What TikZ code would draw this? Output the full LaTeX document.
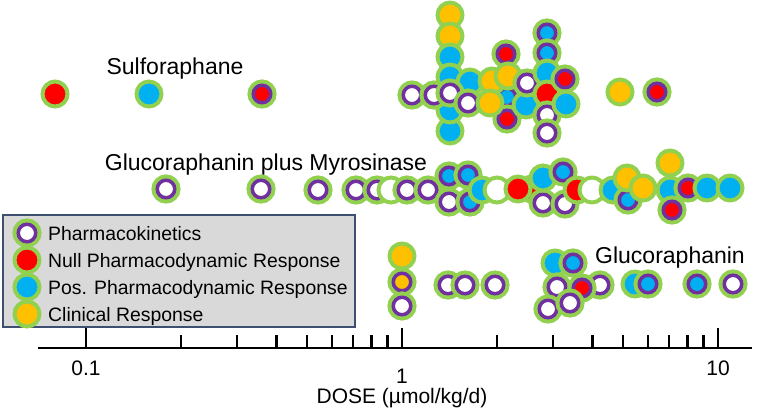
\documentclass[tikz,border=0pt]{standalone}
\usepackage{fontspec}
\setmainfont{Liberation Sans}
\definecolor{grn}{HTML}{92D050}
\definecolor{prp}{HTML}{7030A0}
\definecolor{blu}{HTML}{00B0F0}
\definecolor{org}{HTML}{FFC000}
\definecolor{rd}{HTML}{FF0000}
\definecolor{lgfill}{HTML}{D9D9D9}
\definecolor{lgdraw}{HTML}{3F4F6F}
\tikzset{
  dot/.style={circle, inner sep=0pt, minimum size=25pt, draw=grn, line width=4pt},
  pdot/.style={circle, inner sep=0pt, minimum size=17.5pt, draw=prp, line width=3.5pt,
    preaction={draw=grn, line width=11.5pt}},
  PK/.style={pdot, fill=white},
  NR/.style={dot, fill=rd},
  PR/.style={dot, fill=blu},
  CR/.style={dot, fill=org},
  GW/.style={dot, fill=white},
  NRp/.style={pdot, fill=rd},
  PRp/.style={pdot, fill=blu},
  CRp/.style={pdot, fill=org},
  axisline/.style={line width=2.5pt, black},
  rowlabel/.style={inner sep=0pt, anchor=base, font=\fontsize{23}{23}\selectfont},
  legtext/.style={inner sep=0pt, anchor=base west, font=\fontsize{19.4}{19.4}\selectfont},
  ticklabel/.style={inner sep=0pt, anchor=base, font=\fontsize{21}{21}\selectfont},
}
\begin{document}
\begin{tikzpicture}[x=1pt,y=-1pt]
\useasboundingbox (0,0) rectangle (765,408);
% axis
\coordinate (axL) at (38,348);
\coordinate (axR) at (752,348);
\draw[axisline] (axL) -- (axR);
\foreach \t in {86,402,718} \draw[axisline] (\t,328) -- (\t,348);
\foreach \t in {181.1,236.8,276.3,306.9,331.9,353.1,371.4,387.5,497.1,552.8,592.3,622.9,647.9,669.1,687.4,703.5}
  \draw[axisline] (\t,335) -- (\t,348);
\node[ticklabel] (t01) at (86,375.5) {0.1};
\node[ticklabel] (t1) at (402,383) {1};
\node[ticklabel] (t10) at (718,375.5) {10};
\node[ticklabel] (xlab) at (402,403.5) {DOSE (µmol/kg/d)};
% labels
\node[rowlabel] (lsf) at (175,74) {Sulforaphane};
\node[rowlabel] (lgm) at (266,170) {Glucoraphanin plus Myrosinase};
\node[rowlabel] (lgr) at (670,263) {Glucoraphanin};
% Sulforaphane row
\node[NR] (s1) at (55,94) {};
\node[PR] (s2) at (149,94) {};
\node[NRp] (s3) at (262,94) {};
\node[CR] (a1) at (450,15) {};
\node[CR] (a2) at (450,36) {};
\node[PR] (a3) at (450,57) {};
\node[PR] (a4) at (450,77) {};
\node[PR] (a6) at (450,131) {};
\node[PR] (a5) at (450,110) {};
\node[PR] (b0) at (470,82) {};
\node[PK] (p1) at (412,95) {};
\node[PK] (p2) at (434,95) {};
\node[PK] (p3) at (450,93) {};
\node[PK] (p4) at (468,103) {};
\node[NRp] (c0) at (506,54) {};
\node[PRp] (c1) at (507,97) {};
\node[NRp] (c2) at (507,119) {};
\node[CR] (o1) at (492,81) {};
\node[CR] (o2) at (508,76) {};
\node[CR] (o3) at (490,103) {};
\node[PR] (c3) at (526,105) {};
\node[PK] (c4) at (527,83) {};
\node[PRp] (d1) at (547,33) {};
\node[PRp] (d2) at (547,53) {};
\node[PR] (d3) at (547,73) {};
\node[NR] (d4) at (547,94) {};
\node[PK] (d5) at (547,115) {};
\node[PK] (d6) at (547,133) {};
\node[NRp] (e1) at (565,79) {};
\node[PR] (e2) at (566,104) {};
\node[CR] (f1) at (620,92) {};
\node[NRp] (f2) at (657,92) {};
% Glucoraphanin plus Myrosinase row
\node[PK] (g1) at (166,189) {};
\node[PK] (g2) at (261,189) {};
\node[PK] (g3) at (318,190) {};
\node[PK] (g4) at (356,190) {};
\node[PK] (g5) at (377,190) {};
\node[GW] (g6) at (391,190) {};
\node[PK] (g7) at (407,190) {};
\node[PK] (g8) at (428,190) {};
\node[PRp] (h1) at (449,176) {};
\node[PRp] (h2) at (468,175) {};
\node[PK] (h3) at (449,202) {};
\node[PRp] (h4) at (470,202) {};
\node[PR] (h5) at (482,190) {};
\node[GW] (h6) at (497,190) {};
\node[NRp] (h8) at (532,189) {};
\node[NR] (h7) at (518,189) {};
\node[PK] (i3) at (543,203) {};
\node[PK] (i4) at (565,204) {};
\node[PR] (i1) at (543,178) {};
\node[PRp] (i2) at (563,172) {};
\node[NR] (i5) at (577,190) {};
\node[GW] (i6) at (592,190) {};
\node[PR] (j1) at (613,190) {};
\node[PRp] (j3) at (628,200) {};
\node[CR] (j2) at (627,178) {};
\node[CR] (j4) at (643,188) {};
\node[CR] (k1) at (670,163) {};
\node[PR] (k2) at (670,190) {};
\node[NRp] (k3) at (672,210) {};
\node[NRp] (k4) at (688,188) {};
\node[PR] (k5) at (707,188) {};
\node[PR] (k6) at (730,188) {};
% Glucoraphanin row
\node[CR] (r1) at (402,256) {};
\node[CRp] (r2) at (402,282) {};
\node[PK] (r3) at (402,306) {};
\node[PK] (r4) at (448,285) {};
\node[PK] (r5) at (465,285) {};
\node[PK] (r6) at (495,285) {};
\node[PR] (q1) at (555,263) {};
\node[PRp] (q2) at (573,263) {};
\node[PK] (q3) at (557,287) {};
\node[PK] (q4) at (600,285) {};
\node[NRp] (q5) at (582,288) {};
\node[PK] (q6) at (548,309) {};
\node[PK] (q7) at (570,303) {};
\node[PR] (u1) at (635,284) {};
\node[PRp] (u2) at (648,284) {};
\node[PRp] (u3) at (697,284) {};
\node[PK] (u4) at (733,284) {};
% legend
\node[draw=lgdraw, fill=lgfill, line width=1.5pt, inner sep=0pt, minimum width=352pt,
  minimum height=112pt, anchor=north west] (leg) at (2,214) {};
\node[PK] (l1) at (27,233) {};
\node[NR] (l2) at (27,260) {};
\node[PR] (l3) at (27,287) {};
\node[CR] (l4) at (27,314) {};
\node[legtext] (lt1) at (48,240) {Pharmacokinetics};
\node[legtext] (lt2) at (48,267) {Null Pharmacodynamic Response};
\node[legtext] (lt3) at (48,294) {Pos. Pharmacodynamic Response};
\node[legtext] (lt4) at (48,321) {Clinical Response};
\end{tikzpicture}
\end{document}
